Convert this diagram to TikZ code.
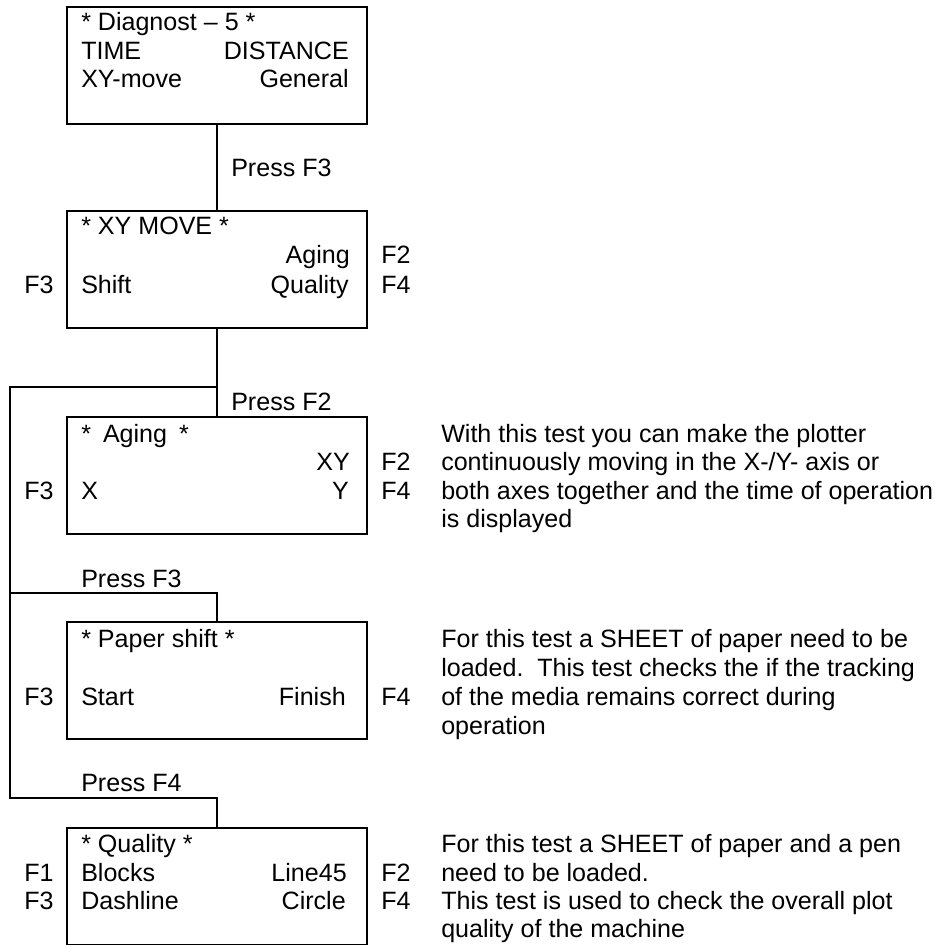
\documentclass[tikz,border=0pt]{standalone}
\usepackage{fontspec}
\setmainfont{Liberation Sans}
\begin{document}
\begin{tikzpicture}[x=0.75pt,y=-0.75pt,
  every node/.style={font=\fontsize{18.8pt}{22pt}\selectfont},
  scr/.style={draw, line width=1.2pt, minimum width=225pt, minimum height=87.75pt, inner sep=0pt},
  lt/.style={anchor=base west, inner sep=0pt},
  rt/.style={anchor=base east, inner sep=0pt},
  conn/.style={line width=1.2pt}]
\useasboundingbox (0,0) rectangle (936,945);
% screens
\node[scr] (b1) at (217,65.5) {};
\node[scr] (b2) at (217,269.5) {};
\node[scr] (b3) at (217,475.5) {};
\node[scr] (b4) at (217,680.5) {};
\node[scr] (b5) at (217,886.5) {};
% junction coordinates
\coordinate (j1) at (217,387);
\coordinate (c1) at (10,387);
\coordinate (c2) at (10,593);
\coordinate (c3) at (217,593);
\coordinate (c4) at (10,798);
\coordinate (c5) at (217,798);
% connectors
\draw[conn] (b1.south) -- (b2.north);
\draw[conn] (b2.south) -- (j1) -- (b3.north);
\draw[conn] (j1) -- (c1) -- (c4) -- (c5) -- (b5.north);
\draw[conn] (c2) -- (c3) -- (b4.north);
% box 1
\node[lt] (t11) at (81,31) {* Diagnost – 5 *};
\node[lt] (t12) at (81,60) {TIME};
\node[rt] (t13) at (349,60) {DISTANCE};
\node[lt] (t14) at (81,88) {XY-move};
\node[rt] (t15) at (349,88) {General};
\node[lt] (p1) at (231,176) {Press F3};
% box 2
\node[lt] (t21) at (81,234) {* XY MOVE *};
\node[rt] (t22) at (350,263) {Aging};
\node[lt] (k21) at (381,263) {F2};
\node[lt] (k22) at (24,293) {F3};
\node[lt] (t23) at (81,293) {Shift};
\node[rt] (t24) at (349,293) {Quality};
\node[lt] (k23) at (381,293) {F4};
\node[lt] (p2) at (231,410) {Press F2};
% box 3
\node[lt] (t31) at (81,442) {*\hspace{9pt}Aging\hspace{9pt}*};
\node[rt] (t32) at (350,470) {XY};
\node[lt] (k31) at (381,470) {F2};
\node[lt] (k32) at (24,499) {F3};
\node[lt] (t33) at (81,499) {X};
\node[rt] (t34) at (349,499) {Y};
\node[lt] (k33) at (381,499) {F4};
\node[lt] (d31) at (441,442) {With this test you can make the plotter};
\node[lt] (d32) at (441,470) {continuously moving in the X-/Y- axis or};
\node[lt] (d33) at (441,499) {both axes together and the time of operation};
\node[lt] (d34) at (441,527) {is displayed};
\node[lt] (p3) at (81,587) {Press F3};
% box 4
\node[lt] (t41) at (81,647) {* Paper shift *};
\node[lt] (k41) at (24,705) {F3};
\node[lt] (t42) at (81,705) {Start};
\node[rt] (t43) at (346,705) {Finish};
\node[lt] (k42) at (381,705) {F4};
\node[lt] (d41) at (441,647) {For this test a SHEET of paper need to be};
\node[lt] (d42) at (441,676) {loaded.\ \ This test checks the if the tracking};
\node[lt] (d43) at (441,705) {of the media remains correct during};
\node[lt] (d44) at (441,734) {operation};
\node[lt] (p4) at (81,791) {Press F4};
% box 5
\node[lt] (t51) at (81,852) {* Quality *};
\node[lt] (k51) at (24,881) {F1};
\node[lt] (t52) at (81,881) {Blocks};
\node[rt] (t53) at (347,881) {Line45};
\node[lt] (k52) at (381,881) {F2};
\node[lt] (k53) at (24,909) {F3};
\node[lt] (t54) at (81,909) {Dashline};
\node[rt] (t55) at (346,909) {Circle};
\node[lt] (k54) at (381,909) {F4};
\node[lt] (d51) at (441,852) {For this test a SHEET of paper and a pen};
\node[lt] (d52) at (441,881) {need to be loaded.};
\node[lt] (d53) at (441,909) {This test is used to check the overall plot};
\node[lt] (d54) at (441,937) {quality of the machine};
\end{tikzpicture}
\end{document}
